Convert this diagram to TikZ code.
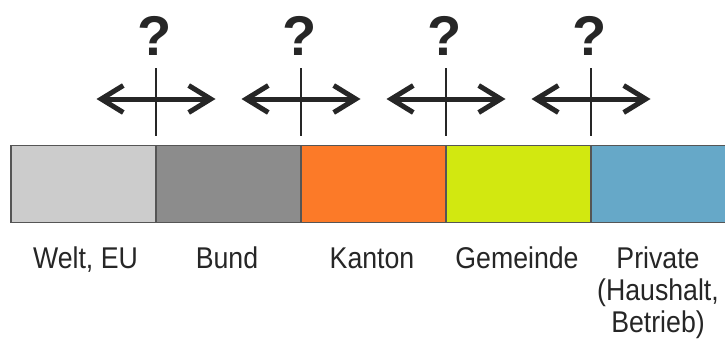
\documentclass[tikz,border=0pt]{standalone}
\usepackage{fontspec}
\setmainfont{Liberation Sans}
\newfontfamily\labfont[FakeStretch=0.89]{Liberation Sans}
\usetikzlibrary{arrows.meta}
\definecolor{cWelt}{HTML}{CCCCCC}
\definecolor{cBund}{HTML}{8C8C8C}
\definecolor{cKanton}{HTML}{FC7A28}
\definecolor{cGemeinde}{HTML}{D2E810}
\definecolor{cPrivate}{HTML}{66A8C8}
\definecolor{cEdge}{HTML}{555555}
\definecolor{cInk}{HTML}{262626}
\tikzset{
  seg/.style={draw=cEdge, line width=1.5pt, minimum width=145pt, minimum height=77pt, inner sep=0pt, rectangle},
  lab/.style={font=\labfont\fontsize{30}{32}\selectfont, text=cInk, inner sep=0pt, anchor=base, align=center},
  qmark/.style={font=\bfseries\fontsize{56}{60}\selectfont, text=cInk, inner sep=0pt, anchor=base},
  dblarrow/.style={draw=cInk, line width=5pt, {Straight Barb[length=22pt,width=27pt]}-{Straight Barb[length=22pt,width=27pt]}},
  tick/.style={draw=cInk, line width=2.5pt}
}
\begin{document}
\begin{tikzpicture}[x=1pt,y=-1pt]
\useasboundingbox (0,0) rectangle (725,340);
\clip (0,0) rectangle (725,340);
\fill[white] (0,0) rectangle (725,340);
% bar segments
\node[seg, fill=cWelt] (s1) at (83.5,184) {};
\node[seg, fill=cBund] (s2) at (228.5,184) {};
\node[seg, fill=cKanton] (s3) at (373.5,184) {};
\node[seg, fill=cGemeinde] (s4) at (518.5,184) {};
\node[seg, fill=cPrivate] (s5) at (663.5,184) {};
% labels
\node[lab] (l1) at (85.5,268) {Welt, EU};
\node[lab] (l2) at (227,268) {Bund};
\node[lab] (l3) at (372,268) {Kanton};
\node[lab] (l4) at (517,268) {Gemeinde};
\node[lab] (l5) at (658,332) {Private\\(Haushalt,\\Betrieb)};
% arrows, ticks and question marks
\foreach \i/\x in {1/156,2/301,3/446,4/591}{
  \coordinate (al\i) at (\x-59.5,99);
  \coordinate (ar\i) at (\x+59.5,99);
  \coordinate (tt\i) at (\x,68);
  \coordinate (tb\i) at (\x,136);
  \draw[dblarrow] (al\i) -- (ar\i);
  \draw[tick] (tt\i) -- (tb\i);
  \node[qmark] (q\i) at (\x-1,55) {?};
}
\end{tikzpicture}
\end{document}
